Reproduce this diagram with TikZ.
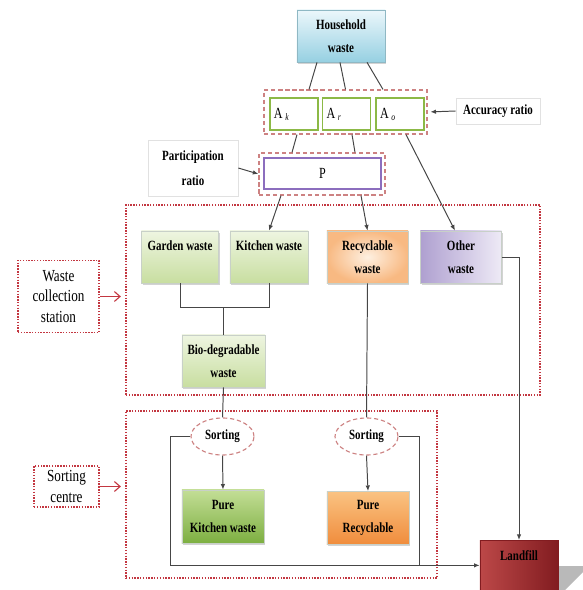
\documentclass[tikz,border=0pt]{standalone}
\usepackage{fontspec}
\setmainfont{Liberation Serif}
\newfontfamily\condfont{Liberation Serif}[FakeStretch=0.78]
\usetikzlibrary{arrows.meta,calc,shapes.geometric,shadows}
\definecolor{boxline}{RGB}{200,208,200}
\definecolor{hblue}{RGB}{150,208,226}
\definecolor{hbluelt}{RGB}{236,247,251}
\definecolor{ggreen}{RGB}{200,222,160}
\definecolor{ggreenlt}{RGB}{238,245,225}
\definecolor{rorange}{RGB}{248,185,130}
\definecolor{rorangelt}{RGB}{254,240,225}
\definecolor{opurple}{RGB}{175,160,208}
\definecolor{opurplelt}{RGB}{238,234,246}
\definecolor{pkgreen}{RGB}{125,175,65}
\definecolor{pkgreenlt}{RGB}{195,222,150}
\definecolor{prorange}{RGB}{240,140,60}
\definecolor{prorangelt}{RGB}{250,195,130}
\definecolor{lfred}{RGB}{130,28,32}
\definecolor{lfredlt}{RGB}{188,72,72}
\definecolor{dotred}{RGB}{195,55,65}
\definecolor{dashpink}{RGB}{205,130,130}
\definecolor{agreen}{RGB}{140,185,70}
\definecolor{ppurple}{RGB}{140,110,190}
\definecolor{connline}{RGB}{70,70,70}
\definecolor{lightline}{RGB}{225,225,225}

\begin{document}
\begin{tikzpicture}[x=0.025cm,y=-0.025cm,>={Latex[length=4pt,width=3.2pt]},
  wbox/.style={draw=boxline,line width=0.5pt,inner sep=1pt,align=center,
    font=\condfont\bfseries\fontsize{10}{16.5}\selectfont,
    drop shadow={opacity=0.35,shadow xshift=1pt,shadow yshift=-1.2pt}},
  lbox/.style={draw=lightline,fill=white,inner sep=1pt,align=center,
    font=\condfont\bfseries\fontsize{10}{18}\selectfont},
  abox/.style={draw=agreen,line width=1.1pt,fill=white,text width=1.0cm,
    align=left,inner sep=0.1cm,minimum height=0.8cm,
    font=\condfont\fontsize{11}{13}\selectfont},
  grpdash/.style={draw=dashpink,line width=0.8pt,dash pattern=on 3pt off 2pt},
  dotbox/.style={draw=dotred,line width=1.2pt,dash pattern=on 1pt off 1pt},
  sortell/.style={ellipse,draw=dashpink,line width=0.8pt,dash pattern=on 3pt off 2pt,
    fill=white,inner sep=0pt,minimum width=1.575cm,minimum height=0.925cm,
    font=\condfont\bfseries\fontsize{10}{12}\selectfont},
  conn/.style={draw=connline,line width=0.7pt},
  redarrow/.style={draw=dotred,line width=0.8pt,-{Straight Barb[length=4pt,width=7pt]},
    shorten >=3pt}]
  \useasboundingbox (0,0) rectangle (583,590);

  % upper part: source and ratios
  \node[wbox,top color=hbluelt,bottom color=hblue,draw=hblue!70!gray,
    minimum width=2.2cm,minimum height=1.3cm] (house) at (341,36) {Household\\waste};
  \node[grpdash,minimum width=4.075cm,minimum height=1.1cm] (agroup) at (345.5,112) {};
  \node[abox] (ak) at (294,114) {A\,\raisebox{-1.5pt}{\scriptsize\itshape k}};
  \node[abox] (ar) at (346.5,114) {A\,\raisebox{-1.5pt}{\scriptsize\itshape r}};
  \node[abox] (ao) at (400,114) {A\,\raisebox{-1.5pt}{\scriptsize\itshape o}};
  \node[lbox,minimum width=2.1cm,minimum height=0.65cm] (acc) at (498,111) {Accuracy ratio};
  \node[grpdash,minimum width=3.15cm,minimum height=1.05cm] (pgroup) at (322,174) {};
  \node[draw=ppurple,line width=1.2pt,fill=white,minimum width=2.925cm,minimum height=0.775cm,
    font=\condfont\fontsize{11}{13}\selectfont] (pbox) at (322.5,173.5) {P};
  \node[lbox,minimum width=2.25cm,minimum height=1.4cm] (part) at (193,168) {Participation\\ratio};

  % waste collection station
  \node[dotbox,minimum width=10.35cm,minimum height=4.75cm] (coll) at (333,300) {};
  \node[dotbox,fill=white,minimum width=2.025cm,minimum height=1.8cm,align=center,
    font=\condfont\fontsize{12}{14.5}\selectfont] (wcs) at (58.5,296.5) {Waste\\collection\\station};
  \node[wbox,top color=ggreenlt,bottom color=ggreen,minimum width=1.925cm,minimum height=1.3cm,
    text height=0.5cm,text depth=0.8cm,inner sep=0pt] (garden) at (180,257) {Garden waste};
  \node[wbox,top color=ggreenlt,bottom color=ggreen,minimum width=1.95cm,minimum height=1.3cm,
    text height=0.5cm,text depth=0.8cm,inner sep=0pt] (kitchen) at (269,257) {Kitchen waste};
  \node[wbox,inner color=rorangelt,outer color=rorange,minimum width=2.025cm,minimum height=1.3cm]
    (recyc) at (367.5,257) {Recyclable\\waste};
  \node[wbox,left color=opurple,right color=opurplelt,minimum width=2.025cm,minimum height=1.3cm]
    (other) at (461,257) {Other\\waste};
  \node[wbox,top color=ggreenlt,bottom color=ggreen,minimum width=2.075cm,minimum height=1.3cm]
    (bio) at (223.5,361) {Bio-degradable\\waste};

  % sorting centre
  \node[dotbox,minimum width=7.775cm,minimum height=4.175cm] (sortc) at (281.5,494.5) {};
  \node[dotbox,fill=white,minimum width=1.625cm,minimum height=1.025cm,align=center,
    font=\condfont\fontsize{12}{14.5}\selectfont] (scl) at (66.5,486.5) {Sorting\\centre};
  \node[sortell] (sorta) at (222.5,436.5) {Sorting};
  \node[sortell] (sortb) at (366.5,436.5) {Sorting};
  \node[wbox,top color=pkgreenlt,bottom color=pkgreen,minimum width=2.05cm,minimum height=1.325cm]
    (purek) at (223,516.5) {Pure\\Kitchen waste};
  \node[wbox,top color=prorangelt,bottom color=prorange,minimum width=2.05cm,minimum height=1.325cm]
    (purer) at (368,518) {Pure\\Recyclable};

  % landfill
  \fill[gray!55] (556,566) -- (583,566) -- (583,572) -- (565,590) -- (556,590) -- cycle;
  \node[wbox,left color=lfredlt,right color=lfred,draw=lfred,minimum width=1.95cm,inner sep=0pt,
    text height=0.5cm,text depth=1.0cm,anchor=north] (landfill) at (519,540) {Landfill};
  \coordinate (lfin) at ($(landfill.west)+(0,-5)$);

  % connectors
  \draw[conn] ($(house.south)+(-24,0)$) -- ($(agroup.north)+(-36.5,0)$);
  \draw[conn] ($(house.south)+(-1,0)$) -- (agroup.north);
  \draw[conn] ($(house.south)+(26,0)$) -- ($(agroup.north)+(37.5,0)$);
  \draw[conn,->,shorten >=2pt] (acc.west) -- (agroup.east);
  \draw[conn] ($(agroup.south)+(-48.5,0)$) -- ($(pgroup.north)+(-30,0)$);
  \draw[conn] ($(agroup.south)+(6.5,0)$) -- ($(pgroup.north)+(33,0)$);
  \draw[conn,->] ($(agroup.south)+(60.5,0)$) -- ($(other.north)+(-6,0)$);
  \draw[conn,->] (part.east) -- (pgroup.west);
  \draw[conn,->] ($(pgroup.south)+(-41,0)$) -- (kitchen.north);
  \draw[conn,->] ($(pgroup.south)+(39,0)$) -- (recyc.north);
  \draw[conn] (garden.south) -- ++(0,24) coordinate (gk) -| (kitchen.south);
  \draw[conn] (bio.north) -- (bio.north |- gk);
  \draw[conn] (bio.south) -- (sorta.north);
  \draw[conn] (recyc.south) -- (sortb.north);
  \draw[conn,->] (sorta.south) -- (purek.north);
  \draw[conn,->] (sortb.south) -- (purer.north);
  \draw[conn,->] (sorta.west) -- ++(-20,0) |- (lfin);
  \draw[conn] (sortb.east) -- ++(21,0) coordinate (sb) -- (sb |- lfin);
  \draw[conn,->] (other.east) -| (landfill.north);
  \draw[redarrow] (wcs.east) -- (coll.west |- wcs.east);
  \draw[redarrow] (scl.east) -- (sortc.west |- scl.east);
\end{tikzpicture}
\end{document}
